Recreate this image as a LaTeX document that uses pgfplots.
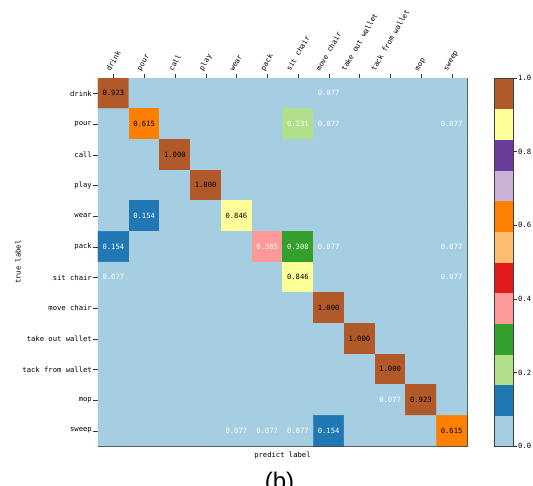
\documentclass[border=0pt]{standalone}
\usepackage{fontspec}
\setmainfont{DejaVu Sans Mono}
\newfontfamily\capfont{Liberation Sans}
\usepackage{graphicx}
\usepackage{pgfplots}
\usepackage{pgfplotstable}
\pgfplotsset{compat=1.18}
\definecolor{pairedlb}{RGB}{166,206,227}
\newcommand\lbl{\fontsize{7.2}{8.5}\selectfont}

\pgfplotstableread{
x y c
0 0 0.923
1 0 0
2 0 0
3 0 0
4 0 0
5 0 0
6 0 0
7 0 0.077
8 0 0
9 0 0
10 0 0
11 0 0
0 1 0
1 1 0.615
2 1 0
3 1 0
4 1 0
5 1 0
6 1 0.231
7 1 0.077
8 1 0
9 1 0
10 1 0
11 1 0.077
0 2 0
1 2 0
2 2 1.000
3 2 0
4 2 0
5 2 0
6 2 0
7 2 0
8 2 0
9 2 0
10 2 0
11 2 0
0 3 0
1 3 0
2 3 0
3 3 1.000
4 3 0
5 3 0
6 3 0
7 3 0
8 3 0
9 3 0
10 3 0
11 3 0
0 4 0
1 4 0.154
2 4 0
3 4 0
4 4 0.846
5 4 0
6 4 0
7 4 0
8 4 0
9 4 0
10 4 0
11 4 0
0 5 0.154
1 5 0
2 5 0
3 5 0
4 5 0
5 5 0.385
6 5 0.308
7 5 0.077
8 5 0
9 5 0
10 5 0
11 5 0.077
0 6 0.077
1 6 0
2 6 0
3 6 0
4 6 0
5 6 0
6 6 0.846
7 6 0
8 6 0
9 6 0
10 6 0
11 6 0.077
0 7 0
1 7 0
2 7 0
3 7 0
4 7 0
5 7 0
6 7 0
7 7 1.000
8 7 0
9 7 0
10 7 0
11 7 0
0 8 0
1 8 0
2 8 0
3 8 0
4 8 0
5 8 0
6 8 0
7 8 0
8 8 1.000
9 8 0
10 8 0
11 8 0
0 9 0
1 9 0
2 9 0
3 9 0
4 9 0
5 9 0
6 9 0
7 9 0
8 9 0
9 9 1.000
10 9 0
11 9 0
0 10 0
1 10 0
2 10 0
3 10 0
4 10 0
5 10 0
6 10 0
7 10 0
8 10 0
9 10 0.077
10 10 0.923
11 10 0
0 11 0
1 11 0
2 11 0
3 11 0
4 11 0.077
5 11 0.077
6 11 0.077
7 11 0.154
8 11 0
9 11 0
10 11 0
11 11 0.615
}\cmtable

\pgfplotstableread{
x y t
0 0 0.923
1 1 0.615
2 2 1.000
3 3 1.000
4 4 0.846
6 6 0.846
7 7 1.000
8 8 1.000
9 9 1.000
10 10 0.923
11 11 0.615
}\darklabels

\pgfplotstableread{
x y t
7 0 0.077
6 1 0.231
7 1 0.077
11 1 0.077
1 4 0.154
0 5 0.154
5 5 0.385
6 5 0.308
7 5 0.077
11 5 0.077
0 6 0.077
11 6 0.077
9 10 0.077
4 11 0.077
5 11 0.077
6 11 0.077
7 11 0.154
}\lightlabels

\begin{document}
\begin{tikzpicture}
\useasboundingbox (0,0) rectangle (533pt,485pt);
\begin{axis}[
  at={(98pt,39pt)}, anchor=south west,
  scale only axis, width=369pt, height=368pt,
  xmin=-0.5, xmax=11.5, ymin=-0.5, ymax=11.5,
  y dir=reverse, enlargelimits=false,
  axis background/.style={fill=pairedlb},
  axis line style={black!75},
  xtick={0,...,11}, ytick={0,...,11},
  xticklabels={\rotatebox{60}{drink},\rotatebox{60}{pour},\rotatebox{60}{call},\rotatebox{60}{play},\rotatebox{60}{wear},\rotatebox{60}{pack},\rotatebox{60}{sit chair},\rotatebox{60}{move chair},\rotatebox{60}{take out wallet},\rotatebox{60}{tack from wallet},\rotatebox{60}{mop},\rotatebox{60}{sweep}},
  yticklabels={drink,pour,call,play,wear,pack,sit chair,move chair,take out wallet,tack from wallet,mop,sweep},
  xtick pos=upper, xticklabel pos=upper, ytick pos=left, yticklabel pos=left,
  tick align=outside, major tick length=4.5pt,
  tick style={black!80},
  xticklabel style={anchor=south, font=\lbl, inner sep=1.5pt},
  yticklabel style={anchor=east, font=\lbl, inner sep=1.5pt},
  xlabel={predict label},
  xlabel style={at={(axis description cs:0.5,0)}, anchor=north, font=\lbl, yshift=-2pt},
  ylabel={true label},
  ylabel style={at={(axis description cs:-0.2168,0.5)}, anchor=center, font=\lbl},
  colormap={paired}{rgb255=(166,206,227) rgb255=(31,120,180) rgb255=(178,223,138) rgb255=(51,160,44) rgb255=(251,154,153) rgb255=(227,26,28) rgb255=(253,191,111) rgb255=(255,127,0) rgb255=(202,178,214) rgb255=(106,61,154) rgb255=(255,255,153) rgb255=(177,89,40)},
  colormap access=piecewise constant,
  point meta min=0, point meta max=1,
  colorbar,
  colorbar style={
    at={(parent axis.north east)}, anchor=north west, xshift=18.5pt,
    scale only axis, width=19pt, height=368pt,
    axis line style={black!75},
    ytick={0,0.2,0.4,0.6,0.8,1},
    ytick pos=right, yticklabel pos=right,
    tick align=outside, major tick length=3.5pt,
    tick style={black!80},
    yticklabel style={font=\lbl, inner sep=1.5pt, /pgf/number format/.cd, fixed, fixed zerofill, precision=1, assume math mode=true},
  },
]
\addplot[matrix plot*, mesh/cols=12, point meta=explicit] table[x=x, y=y, meta=c] {\cmtable};
\addplot[only marks, mark=none, point meta=explicit symbolic, nodes near coords,
  nodes near coords style={anchor=center, font=\lbl, text=black}] table[x=x, y=y, meta=t] {\darklabels};
\addplot[only marks, mark=none, point meta=explicit symbolic, nodes near coords,
  nodes near coords style={anchor=center, font=\lbl, text=white}] table[x=x, y=y, meta=t] {\lightlabels};
\end{axis}
\node[anchor=base, font=\capfont\fontsize{24}{28}\selectfont] at (279.5pt,-4pt) {(b)};
\end{tikzpicture}
\end{document}
